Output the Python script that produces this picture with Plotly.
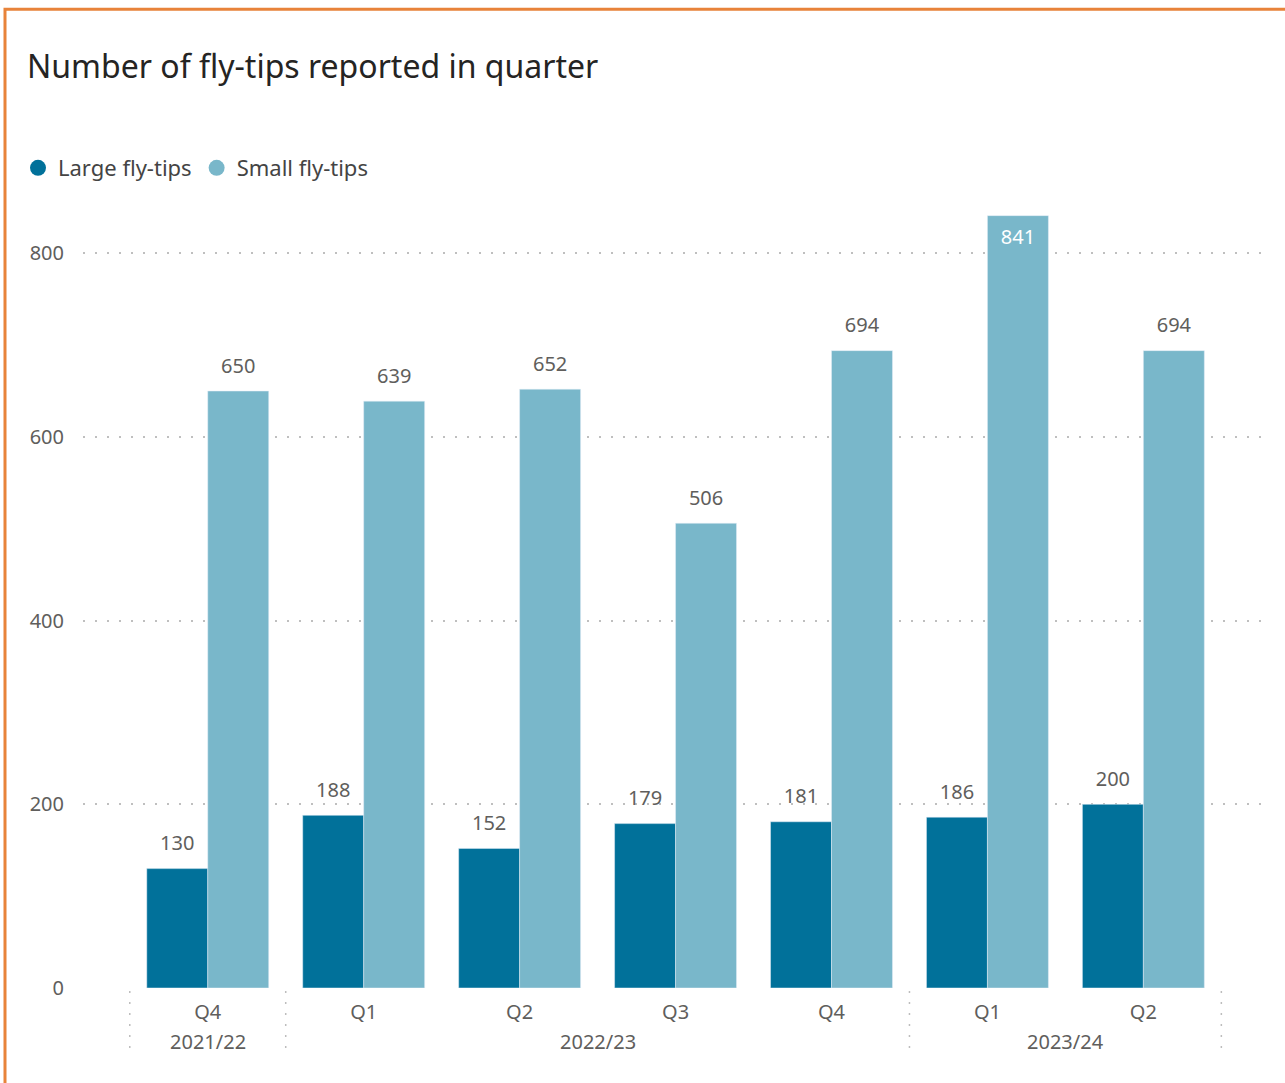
import plotly.graph_objects as go

# data
years = ["2021/22", "2022/23", "2022/23", "2022/23", "2022/23", "2023/24", "2023/24"]
quarters = ["Q4", "Q1", "Q2", "Q3", "Q4", "Q1", "Q2"]
large_tips = [130, 188, 152, 179, 181, 186, 200]
small_tips = [650, 639, 652, 506, 694, 841, 694]

LARGE_COLOR = "#01719A"
SMALL_COLOR = "#79B7CA"
FONT = "Noto Sans, Open Sans, sans-serif"
LABEL_COLOR = "#605E5C"
DIVIDER_COLOR = "#BDBDBD"

W, H = 1285, 1083
M = dict(l=83, r=20, t=188, b=95)
Y_MAX = 870
GAP = 0.218


def px_to_paper_x(px):
    return (px - M["l"]) / (W - M["l"] - M["r"])


def px_to_paper_y(py):
    return (H - M["b"] - py) / (H - M["t"] - M["b"])


pos = list(range(len(quarters)))

# group the quarters by financial year (for year labels and dividers)
year_groups = {}
for p, y in zip(pos, years):
    year_groups.setdefault(y, []).append(p)

fig = go.Figure()

for name, vals, col, grp in [
    ("Large fly-tips", large_tips, LARGE_COLOR, "L"),
    ("Small fly-tips", small_tips, SMALL_COLOR, "S"),
]:
    fig.add_trace(
        go.Bar(
            x=pos,
            y=vals,
            name=name,
            marker_color=col,
            offsetgroup=grp,
            showlegend=False,
            hoverinfo="x+y",
        )
    )

# data labels: above the bar, or inside it when the bar tops the axis
for name, vals, grp in [
    ("Large fly-tips", large_tips, "L"),
    ("Small fly-tips", small_tips, "S"),
]:
    inside = [v > 800 for v in vals]
    fig.add_trace(
        go.Scatter(
            x=pos,
            y=vals,
            mode="markers+text",
            name=name,
            text=[str(v) for v in vals],
            textposition=["bottom center" if i else "top center" for i in inside],
            textfont=dict(
                size=20,
                family=FONT,
                color=["white" if i else LABEL_COLOR for i in inside],
            ),
            marker=dict(size=20, opacity=0),
            alignmentgroup="labels",
            offsetgroup=grp,
            cliponaxis=False,
            showlegend=False,
            hoverinfo="skip",
        )
    )

# round legend markers
for name, col in [("Large fly-tips", LARGE_COLOR), ("Small fly-tips", SMALL_COLOR)]:
    fig.add_trace(
        go.Scatter(
            x=[None],
            y=[None],
            mode="markers",
            name=name,
            marker=dict(color=col, size=20, symbol="circle"),
            alignmentgroup="legend",
            showlegend=True,
        )
    )

# year labels under the quarter labels, and dotted dividers between years
annotations = []
shapes = []
divider = dict(color=DIVIDER_COLOR, width=1.5, dash="2px,9px")
for y, ps in year_groups.items():
    annotations.append(
        dict(
            x=sum(ps) / len(ps),
            xref="x",
            y=px_to_paper_y(1042),
            yref="paper",
            text=y,
            showarrow=False,
            yanchor="middle",
            font=dict(size=20, color=LABEL_COLOR, family=FONT),
        )
    )
    shapes.append(
        dict(
            type="line", xref="x", yref="paper",
            x0=ps[0] - 0.5, x1=ps[0] - 0.5,
            y0=px_to_paper_y(991), y1=px_to_paper_y(1057),
            line=divider,
        )
    )
last = pos[-1] + 0.5
shapes.append(
    dict(
        type="line", xref="x", yref="paper",
        x0=last, x1=last,
        y0=px_to_paper_y(991), y1=px_to_paper_y(1057),
        line=divider,
    )
)

# orange frame around the visual
shapes.append(
    dict(
        type="rect",
        xref="paper",
        yref="paper",
        x0=px_to_paper_x(5),
        x1=px_to_paper_x(1400),
        y0=px_to_paper_y(1200),
        y1=px_to_paper_y(8),
        line=dict(color="#E8833A", width=3),
        fillcolor="rgba(0,0,0,0)",
        layer="above",
    )
)

fig.update_layout(
    width=W,
    height=H,
    margin=M,
    plot_bgcolor="white",
    paper_bgcolor="white",
    font=dict(family=FONT, size=20, color=LABEL_COLOR),
    barmode="group",
    bargap=GAP,
    bargroupgap=0,
    scattermode="group",
    scattergap=GAP,
    title=dict(
        text="Number of fly-tips reported in quarter",
        font=dict(size=32, color="#252423", family=FONT),
        xref="container",
        x=27 / W,
        xanchor="left",
        yref="container",
        y=1 - 67 / H,
        yanchor="middle",
    ),
    legend=dict(
        orientation="h",
        xref="container",
        yref="container",
        x=18 / W,
        y=1 - 168 / H,
        xanchor="left",
        yanchor="middle",
        font=dict(size=22, color="#444444", family=FONT),
        itemwidth=30,
        tracegroupgap=0,
    ),
    xaxis=dict(
        tickvals=pos,
        ticktext=quarters,
        range=[-0.8, 6.78],
        automargin=False,
        showgrid=False,
        showline=False,
        zeroline=False,
        ticks="",
        ticklabelstandoff=10,
        tickfont=dict(size=20, color=LABEL_COLOR, family=FONT),
    ),
    yaxis=dict(
        range=[0, Y_MAX],
        tickvals=[0, 200, 400, 600, 800],
        automargin=False,
        showgrid=True,
        gridcolor="#BFBFBF",
        griddash="2px,10px",
        gridwidth=1.5,
        zeroline=False,
        showline=False,
        ticks="",
        ticklabelstandoff=18,
        tickfont=dict(size=20, color=LABEL_COLOR, family=FONT),
    ),
    annotations=annotations,
    shapes=shapes,
)

fig.write_html(
    "out.html",
    config={"displayModeBar": False},
    post_script="document.body.style.margin = '0';",
)
